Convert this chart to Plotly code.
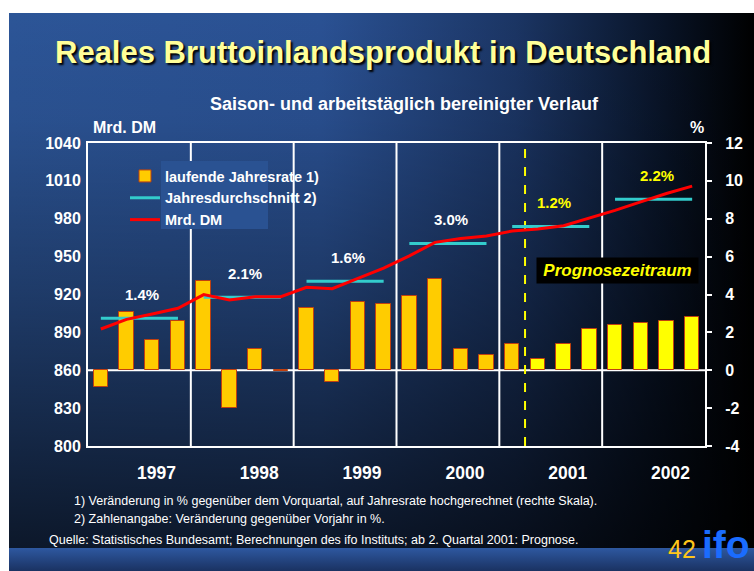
import base64
import numpy as np
import plotly.graph_objects as go

# Daten
years = ["1997", "1998", "1999", "2000", "2001", "2002"]
quarter_rate = [-0.9, 3.1, 1.6, 2.6,
                4.7, -2.0, 1.1, -0.05,
                3.3, -0.6, 3.6, 3.5,
                3.9, 4.8, 1.1, 0.8,
                1.4, 0.6, 1.4, 2.2,
                2.4, 2.5, 2.6, 2.8]
bip_mrd_dm = [892.7, 900.3, 904.6, 909.1,
              919.9, 915.7, 918.3, 918.3,
              925.7, 924.6, 932.8, 940.9,
              950.6, 961.3, 964.4, 966.3,
              970.3, 971.9, 974.5, 980.3,
              986.6, 993.4, 1000.0, 1005.8]
annual_avg = [901.1, 917.8, 930.4, 960.4, 973.9, 995.4]
annual_growth = ["1.4%", "2.1%", "1.6%", "3.0%", "1.2%", "2.2%"]
forecast_year = years.index("2001")
forecast_quarter = 4 * forecast_year + 1  # ab 2. Quartal 2001
pct_ticks = [-4, -2, 0, 2, 4, 6, 8, 10, 12]

FONT = "Arial, Liberation Sans, sans-serif"
W, H = 754, 571
PL, PT, PW, PH = 88, 143, 617, 303


def px(x):
    return (x - PL) / PW


def py(y):
    return (PT + PH - y) / PH


# Hintergrund der Folie als SVG-Verlauf
svg = f'''<svg xmlns="http://www.w3.org/2000/svg" width="{W}" height="{H}">
<defs>
<linearGradient id="h" x1="0" y1="0" x2="1" y2="0">
<stop offset="0" stop-color="#2c5597"/>
<stop offset="0.42" stop-color="#2a5193"/>
<stop offset="0.68" stop-color="#1b3564"/>
<stop offset="0.88" stop-color="#081326"/>
<stop offset="1" stop-color="#000000"/>
</linearGradient>
<linearGradient id="v" x1="0" y1="0" x2="0" y2="1">
<stop offset="0" stop-color="#000" stop-opacity="0"/>
<stop offset="0.2" stop-color="#000" stop-opacity="0.06"/>
<stop offset="0.55" stop-color="#000" stop-opacity="0.33"/>
<stop offset="1" stop-color="#000" stop-opacity="0.72"/>
</linearGradient>
<linearGradient id="b" x1="0" y1="0" x2="0" y2="1">
<stop offset="0" stop-color="#2e58a0"/>
<stop offset="1" stop-color="#1a3262"/>
</linearGradient>
</defs>
<rect width="{W}" height="{H}" fill="#ffffff"/>
<rect x="9" y="13" width="745" height="535" fill="url(#h)"/>
<rect x="9" y="13" width="745" height="535" fill="url(#v)"/>
<rect x="9" y="548" width="745" height="23" fill="url(#b)"/>
</svg>'''
bg_uri = "data:image/svg+xml;base64," + base64.b64encode(svg.encode()).decode()

q = np.arange(len(quarter_rate))
bar_colors = ["#FFCC00" if i < forecast_quarter else "#FFFF00" for i in q]

avg_x, avg_y = [], []
for i, v in enumerate(annual_avg):
    avg_x += [4 * i, 4 * i + 3, None]
    avg_y += [v, v, None]

fig = go.Figure()
fig.add_trace(go.Bar(x=q, y=quarter_rate, name="laufende Jahresrate 1)", width=0.56,
                     marker=dict(color=bar_colors, line=dict(color="#C0400F", width=1)),
                     yaxis="y"))
fig.add_trace(go.Scatter(x=avg_x, y=avg_y, mode="lines", name="Jahresdurchschnitt 2)",
                         line=dict(color="#33CCCC", width=3), yaxis="y2"))
fig.add_trace(go.Scatter(x=q, y=bip_mrd_dm, mode="lines", name="Mrd. DM",
                         line=dict(color="#FF0000", width=3), yaxis="y2"))

shapes = []
for i in range(1, len(years)):
    shapes.append(dict(type="line", xref="x", yref="paper", x0=4 * i - 0.5, x1=4 * i - 0.5,
                       y0=0, y1=1, line=dict(color="white", width=2), layer="below"))
shapes.append(dict(type="line", xref="paper", yref="y", x0=0, x1=1, y0=0, y1=0,
                   line=dict(color="white", width=2), layer="below"))
shapes.append(dict(type="line", xref="x", yref="paper", x0=forecast_quarter - 0.5,
                   x1=forecast_quarter - 0.5, y0=0, y1=1,
                   line=dict(color="#FFFF00", width=2, dash="dash"), layer="below"))
# Hintergrund hinter den Legendentexten
shapes.append(dict(type="rect", xref="paper", yref="paper", x0=px(161), x1=px(268),
                   y0=py(229), y1=py(161), fillcolor="#2a5292", line=dict(width=0),
                   layer="above"))

ann = []
for i, (v, g) in enumerate(zip(annual_avg, annual_growth)):
    ann.append(dict(x=4 * i + 1.5, y=v, xref="x", yref="y2", text=g, showarrow=False,
                    yshift=24, xshift=3,
                    font=dict(family=FONT, size=15, weight="bold",
                              color="white" if i < forecast_year else "#FFFF00")))

ann += [
    dict(x=px(383), y=py(52), text="Reales Bruttoinlandsprodukt in Deutschland",
         font=dict(family=FONT, size=31, weight="bold", color="#FFFF99",
                   shadow="2px 2px 2px #000000")),
    dict(x=px(404), y=py(104), text="Saison- und arbeitstäglich bereinigter Verlauf",
         font=dict(family=FONT, size=18, weight="bold", color="white")),
    dict(x=px(91), y=py(128), text="Mrd. DM", xanchor="left",
         font=dict(family=FONT, size=16, weight="bold", color="white")),
    dict(x=px(697), y=py(128), text="%",
         font=dict(family=FONT, size=16, weight="bold", color="white")),
    dict(x=px(617), y=py(270), text="<i>Prognosezeitraum</i>", bgcolor="#000000",
         width=157, height=21, borderpad=2,
         font=dict(family=FONT, size=17, weight="bold", color="#FFFF00")),
    dict(x=px(72), y=py(501), xanchor="left",
         text="1) Veränderung in % gegenüber dem Vorquartal, auf Jahresrate hochgerechnet (rechte Skala).",
         font=dict(family=FONT, size=12.5, color="white")),
    dict(x=px(72), y=py(519), xanchor="left",
         text="2) Zahlenangabe: Veränderung gegenüber Vorjahr in %.",
         font=dict(family=FONT, size=12.5, color="white")),
    dict(x=px(47), y=py(540), xanchor="left",
         text="Quelle: Statistisches Bundesamt; Berechnungen des ifo Instituts; ab 2. Quartal 2001: Prognose.",
         font=dict(family=FONT, size=12.5, color="white")),
    dict(x=px(682), y=py(549), text="42",
         font=dict(family=FONT, size=25, color="#FFC61A")),
    dict(x=px(701), y=py(544), text="ifo", xanchor="left", borderpad=0,
         font=dict(family=FONT, size=39, weight="bold", color="#1A6CFF")),
]
for a in ann:
    a.setdefault("xref", "paper")
    a.setdefault("yref", "paper")
    a.setdefault("xanchor", "center")
    a.setdefault("yanchor", "middle")
    a.setdefault("showarrow", False)

tick_font = dict(family=FONT, size=16, weight="bold", color="white")
fig.update_layout(
    width=W, height=H,
    margin=dict(l=PL, r=W - PL - PW, t=PT, b=H - PT - PH),
    paper_bgcolor="white", plot_bgcolor="rgba(0,0,0,0)",
    bargap=0, showlegend=True,
    legend=dict(x=px(125), y=py(160), xanchor="left", yanchor="top",
                bgcolor="rgba(0,0,0,0)", traceorder="normal",
                font=dict(family=FONT, size=14.5, weight="bold", color="white")),
    xaxis=dict(range=[-0.5, len(q) - 0.5], tickvals=[4 * i + 1.5 for i in range(len(years))],
               ticktext=years, ticks="", showgrid=False, zeroline=False,
               showline=True, mirror=True, linecolor="white", linewidth=2,
               ticklabelshift=17, ticklabelstandoff=10,
               tickfont=dict(family=FONT, size=17.5, weight="bold", color="white")),
    yaxis=dict(side="right", range=[-4, 12], tickvals=pct_ticks,
               ticktext=[str(t) for t in pct_ticks], showgrid=False, zeroline=False,
               showline=True, linecolor="white", linewidth=2,
               ticks="outside", ticklen=5, tickwidth=2, tickcolor="white",
               ticklabelstandoff=10, tickfont=tick_font),
    yaxis2=dict(side="left", overlaying="y", range=[800, 1040], tick0=800, dtick=30,
                showgrid=False, zeroline=False, showline=True, linecolor="white",
                linewidth=2, ticks="", ticklabelstandoff=2, tickfont=tick_font),
    images=[dict(source=bg_uri, xref="paper", yref="paper", x=px(0), y=py(0),
                 sizex=W / PW, sizey=H / PH, xanchor="left", yanchor="top",
                 sizing="stretch", layer="below")],
    shapes=shapes,
    annotations=ann,
)

fig.write_html("out.html", config={"displayModeBar": False},
               post_script="document.body.style.margin='0';document.body.style.overflow='hidden';")
